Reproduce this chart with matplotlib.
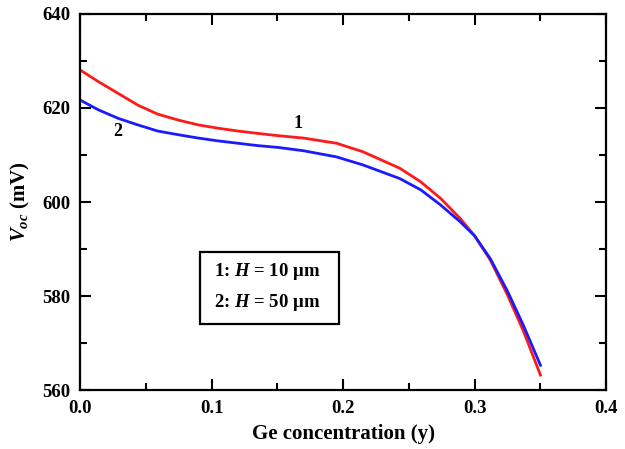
import numpy as np
import matplotlib
matplotlib.use("Agg")
import matplotlib.pyplot as plt
from matplotlib.ticker import MultipleLocator, FormatStrFormatter
from matplotlib.patches import Rectangle

plt.rcParams["font.family"] = "Liberation Serif"
plt.rcParams["font.weight"] = "bold"
plt.rcParams["mathtext.fontset"] = "custom"
plt.rcParams["mathtext.it"] = "Liberation Serif:italic:bold"
plt.rcParams["mathtext.rm"] = "Liberation Serif:bold"

# Voc vs Ge fraction for two base thicknesses
ge_y = [0.0, 0.014, 0.029, 0.044, 0.059, 0.075, 0.090, 0.105, 0.120, 0.135,
        0.151, 0.170, 0.195, 0.215, 0.243, 0.259, 0.274, 0.289, 0.300, 0.312,
        0.325, 0.337, 0.350]
voc_h10 = [628.1, 625.6, 623.1, 620.6, 618.7, 617.4, 616.4, 615.7, 615.1, 614.6,
           614.1, 613.6, 612.5, 610.7, 607.2, 604.3, 600.8, 596.5, 592.8, 587.6,
           580.2, 572.6, 563.2]
voc_h50 = [621.7, 619.6, 617.8, 616.4, 615.1, 614.3, 613.6, 613.0, 612.5, 612.0,
           611.6, 610.9, 609.6, 607.9, 605.0, 602.6, 599.4, 595.8, 592.8, 587.9,
           581.0, 573.8, 565.3]

legend_lines = ["1: $H$ = 10 μm", "2: $H$ = 50 μm"]

fig, ax = plt.subplots(figsize=(6.25, 4.49), dpi=100)
fig.subplots_adjust(left=0.128, right=0.970, top=0.969, bottom=0.131)

ax.plot(ge_y, voc_h10, color="#ff1a1a", lw=2, solid_joinstyle="round")
ax.plot(ge_y, voc_h50, color="#1a1aff", lw=2, solid_joinstyle="round")

ax.set_xlim(0, 0.4)
ax.set_ylim(560, 640)
ax.xaxis.set_major_locator(MultipleLocator(0.1))
ax.xaxis.set_minor_locator(MultipleLocator(0.05))
ax.yaxis.set_major_locator(MultipleLocator(20))
ax.yaxis.set_minor_locator(MultipleLocator(10))
ax.xaxis.set_major_formatter(FormatStrFormatter("%.1f"))
ax.tick_params(which="both", direction="in", top=True, right=True,
               width=1.5, labelsize=13.5, pad=7)
ax.tick_params(which="major", length=8)
ax.tick_params(which="minor", length=5)
for lab in ax.get_xticklabels() + ax.get_yticklabels():
    lab.set_fontweight("bold")
for sp in ax.spines.values():
    sp.set_linewidth(1.6)

ax.set_xlabel("Ge concentration (y)", fontsize=15, fontweight="bold", labelpad=5)
ax.set_ylabel("$V_{oc}$ (mV)", fontsize=15, fontweight="bold", labelpad=7)

ax.text(0.166, 616.6, "1", fontsize=13, fontweight="bold", ha="center", va="center")
ax.text(0.029, 615.0, "2", fontsize=13, fontweight="bold", ha="center", va="center")

ax.add_patch(Rectangle((0.228, 0.176), 0.264, 0.191, transform=ax.transAxes,
                       fill=False, lw=1.6, ec="black"))
ax.text(0.255, 0.315, legend_lines[0], transform=ax.transAxes, fontsize=13.5,
        fontweight="bold", va="center")
ax.text(0.255, 0.233, legend_lines[1], transform=ax.transAxes, fontsize=13.5,
        fontweight="bold", va="center")

plt.savefig("out.png", dpi=100)
plt.close()
